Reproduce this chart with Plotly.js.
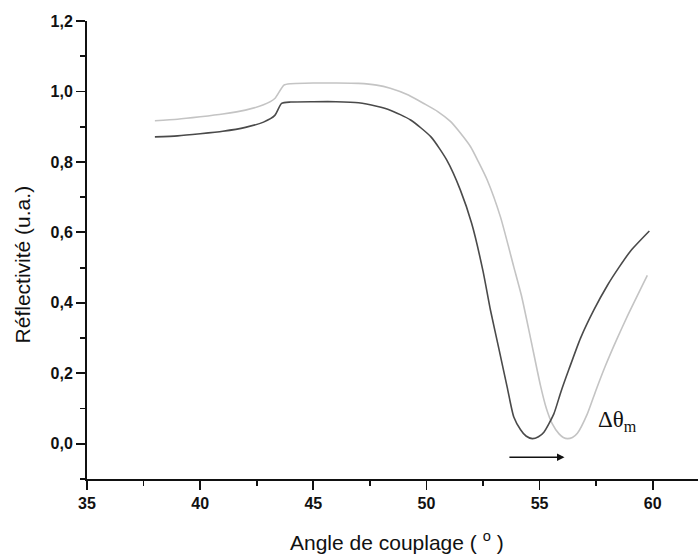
<!DOCTYPE html>
<html>
<head>
<meta charset="utf-8">
<script src="https://cdn.plot.ly/plotly-3.0.1.min.js"></script>
<style>html,body{margin:0;padding:0;background:#fff;}#chart{width:698px;height:554px;}</style>
</head>
<body>
<div id="chart"></div>
<script>
// Dark curve (before shift)
const darkX = [38, 39, 40, 41, 42, 42.8, 43.3, 43.6, 44, 45, 46, 47, 47.8, 48.4, 49.3, 50.2, 50.9, 51.5, 52.0, 52.5, 52.83, 53.2, 53.57, 53.86, 54.16, 54.4, 54.68, 54.95, 55.19, 55.63, 55.93, 56.3, 56.81, 57.4, 58.0, 58.5, 59.03, 59.85];
const darkY = [0.871, 0.874, 0.880, 0.887, 0.898, 0.913, 0.932, 0.966, 0.970, 0.971, 0.971, 0.968, 0.958, 0.947, 0.919, 0.871, 0.805, 0.720, 0.625, 0.490, 0.379, 0.270, 0.160, 0.076, 0.040, 0.022, 0.0145, 0.020, 0.033, 0.085, 0.145, 0.212, 0.300, 0.380, 0.450, 0.500, 0.548, 0.604];
// Light curve (after shift)
const lightX = [38, 39, 40, 41, 42, 42.8, 43.3, 43.7, 44, 45, 46, 47, 47.8, 48.4, 49.2, 49.88, 50.5, 51.06, 51.5, 51.95, 52.3, 52.69, 53.27, 53.86, 54.2, 54.6, 55.04, 55.3, 55.55, 55.86, 56.05, 56.23, 56.45, 56.67, 57.11, 57.48, 57.9, 58.4, 58.9, 59.76];
const lightY = [0.917, 0.921, 0.928, 0.936, 0.947, 0.962, 0.980, 1.018, 1.022, 1.024, 1.024, 1.023, 1.018, 1.009, 0.990, 0.966, 0.943, 0.915, 0.882, 0.843, 0.800, 0.748, 0.644, 0.502, 0.420, 0.300, 0.165, 0.100, 0.058, 0.028, 0.018, 0.0145, 0.018, 0.030, 0.085, 0.150, 0.220, 0.295, 0.365, 0.478];
// Shift arrow and label
const arrowX = [53.6, 56.1];
const arrowY = -0.038;
const labelX = 57.5;
const labelY = 0.065;

const fontFam = 'Liberation Sans, Arial, sans-serif';
const traces = [
  {x: lightX, y: lightY, mode: 'lines', line: {color: '#c4c4c4', width: 1.6, shape: 'spline', smoothing: 0.6}, hoverinfo: 'skip'},
  {x: darkX, y: darkY, mode: 'lines', line: {color: '#4a4a4a', width: 1.6, shape: 'spline', smoothing: 0.6}, hoverinfo: 'skip'}
];
const tickFont = {size: 16, family: fontFam, color: '#111', weight: 700};
const titleFont = {size: 21, family: fontFam, color: '#111'};
const layout = {
  width: 698, height: 554,
  margin: {l: 87, r: 0, t: 21, b: 75},
  paper_bgcolor: '#fff', plot_bgcolor: '#fff',
  showlegend: false,
  separators: ', ',
  font: {family: fontFam, color: '#111', size: 14},
  xaxis: {
    range: [35, 62], tick0: 35, dtick: 5, ticks: 'outside', ticklen: 9, tickwidth: 1.8, tickcolor: '#111',
    showline: true, linecolor: '#111', linewidth: 2, showgrid: false, zeroline: false,
    tickfont: tickFont,
    minor: {dtick: 2.5, tick0: 35, ticks: 'outside', ticklen: 5, tickwidth: 1.8, tickcolor: '#111', showgrid: false}
  },
  yaxis: {
    range: [-0.1, 1.2], tick0: 0, dtick: 0.2, tickformat: '.1f', ticks: 'outside', ticklen: 9, tickwidth: 1.8, tickcolor: '#111',
    showline: true, linecolor: '#111', linewidth: 2, showgrid: false, zeroline: false,
    tickfont: tickFont,
    minor: {dtick: 0.1, tick0: 0, ticks: 'outside', ticklen: 5, tickwidth: 1.8, tickcolor: '#111', showgrid: false}
  },
  annotations: [
    {x: arrowX[1], y: arrowY, ax: arrowX[0], ay: arrowY, xref: 'x', yref: 'y', axref: 'x', ayref: 'y',
     showarrow: true, arrowhead: 2, arrowsize: 1, arrowwidth: 1.5, arrowcolor: '#111', text: ''},
    {x: labelX, y: labelY, xref: 'x', yref: 'y', xanchor: 'left', yanchor: 'middle', showarrow: false,
     text: 'Δθ<sub>m</sub>', font: {family: 'Liberation Serif, Times New Roman, serif', size: 23, color: '#111'}},
    {x: 0.507, y: -0.135, xref: 'paper', yref: 'paper', xanchor: 'center', yanchor: 'middle', showarrow: false,
     text: 'Angle de couplage ( <sup>o</sup> )', font: titleFont},
    {x: -0.106, y: 0.469, xref: 'paper', yref: 'paper', xanchor: 'center', yanchor: 'middle', showarrow: false,
     textangle: -90, text: 'Réflectivité (u.a.)', font: titleFont}
  ]
};
Plotly.newPlot('chart', traces, layout, {staticPlot: true, displayModeBar: false});
</script>
</body>
</html>
